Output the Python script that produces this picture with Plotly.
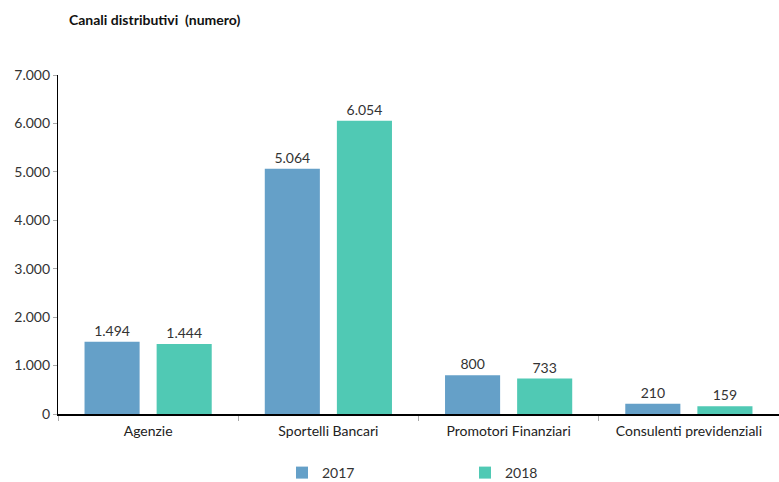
import plotly.graph_objects as go

categories = ["Agenzie", "Sportelli Bancari", "Promotori Finanziari", "Consulenti previdenziali"]
values_2017 = [1494, 5064, 800, 210]
values_2018 = [1444, 6054, 733, 159]
y_ticks = [0, 1000, 2000, 3000, 4000, 5000, 6000, 7000]
y_tick_labels = ["0", "1.000", "2.000", "3.000", "4.000", "5.000", "6.000", "7.000"]


def fmt(v):
    return f"{v:,}".replace(",", ".")


FONT = "Lato, 'Open Sans', sans-serif"
fig = go.Figure()
fig.add_trace(go.Bar(
    x=categories, y=values_2017, name="2017",
    marker=dict(color="#65A0C8", line=dict(width=0)),
    text=[fmt(v) for v in values_2017], textposition="outside",
    textfont=dict(size=14, color="#333333", family=FONT),
    cliponaxis=False,
))
fig.add_trace(go.Bar(
    x=categories, y=values_2018, name="2018",
    marker=dict(color="#50C9B4", line=dict(width=0)),
    text=[fmt(v) for v in values_2018], textposition="outside",
    textfont=dict(size=14, color="#333333", family=FONT),
    cliponaxis=False,
))

# plot area spans x 58..779 and y 75..414 in pixels
fig.update_layout(
    width=779, height=482,
    margin=dict(l=58, r=0, t=75, b=68),
    paper_bgcolor="white", plot_bgcolor="white",
    font=dict(family=FONT, size=14, color="#333333"),
    barmode="group", bargap=0.20, bargroupgap=0.236,
    title=dict(text="<b>Canali distributivi  (numero)</b>", x=69 / 779, xanchor="left",
               y=1 - 20 / 482, yanchor="middle",
               font=dict(size=14, color="#111111", family=FONT)),
    showlegend=True,
    legend=dict(orientation="h", x=(282 - 58) / 721, xanchor="left",
                yref="container", y=1 - 457 / 482, yanchor="top",
                entrywidth=138, entrywidthmode="pixels",
                font=dict(size=14, color="#333333", family=FONT),
                itemwidth=30, traceorder="normal", bgcolor="rgba(0,0,0,0)"),
)
fig.update_xaxes(
    showline=True, linecolor="black", linewidth=1.5,
    ticks="outside", tickson="boundaries", ticklen=5, tickcolor="#aaaaaa",
    tickfont=dict(size=14, color="#222222", family=FONT),
    ticklabelstandoff=3,
    showgrid=False, automargin=False,
)
fig.update_yaxes(
    range=[0, 7000], tickvals=y_ticks, ticktext=y_tick_labels,
    showline=True, linecolor="black", linewidth=1.2,
    ticks="outside", ticklen=4, tickcolor="#aaaaaa",
    tickfont=dict(size=14, color="#333333", family=FONT),
    showgrid=False, zeroline=False, automargin=False,
)

fig.write_html("out.html")
